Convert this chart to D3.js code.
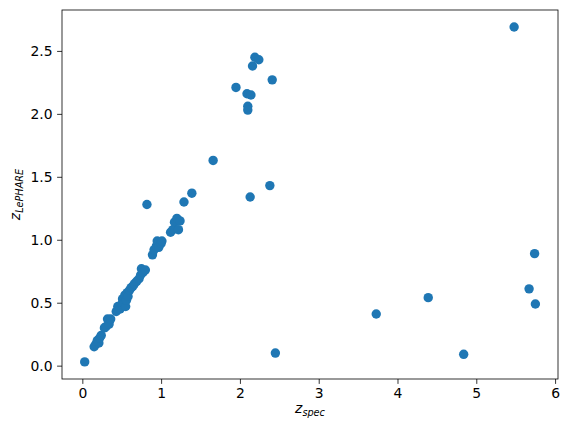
<!DOCTYPE html>
<html>
<head>
<meta charset="utf-8">
<script src="https://cdn.jsdelivr.net/npm/d3@7"></script>
<style>
  body { margin: 0; background: #fff; }
  svg { font-family: "DejaVu Sans", sans-serif; }
</style>
</head>
<body>
<svg id="chart" width="569" height="435"></svg>
<script>
// spectroscopic redshift vs LePHARE photometric redshift
const zSpec = [
  0.03, 0.15, 0.17, 0.19, 0.21, 0.22, 0.24, 0.28, 0.30, 0.32, 0.34, 0.36,
  0.43, 0.45, 0.48, 0.50, 0.51, 0.53, 0.54, 0.55, 0.56, 0.57, 0.58, 0.60,
  0.62, 0.64, 0.66, 0.69, 0.72, 0.74, 0.75, 0.77, 0.80, 0.82, 0.89, 0.91,
  0.94, 0.95, 0.97, 1.00, 1.01, 1.12, 1.15, 1.17, 1.20, 1.22, 1.24, 1.29,
  1.39, 1.66, 1.95, 2.09, 2.10, 2.10, 2.14, 2.13, 2.16, 2.19, 2.24, 2.38,
  2.41, 2.45, 3.73, 4.39, 4.84, 5.48, 5.67, 5.74, 5.75
];
const zLephare = [
  0.03, 0.15, 0.17, 0.20, 0.18, 0.22, 0.24, 0.30, 0.31, 0.37, 0.33, 0.37,
  0.43, 0.47, 0.45, 0.49, 0.53, 0.50, 0.56, 0.47, 0.52, 0.58, 0.55, 0.60,
  0.62, 0.63, 0.65, 0.67, 0.69, 0.72, 0.77, 0.74, 0.76, 1.28, 0.88, 0.92,
  0.95, 0.99, 0.94, 0.97, 0.99, 1.06, 1.08, 1.14, 1.17, 1.08, 1.15, 1.30,
  1.37, 1.63, 2.21, 2.16, 2.06, 2.03, 2.15, 1.34, 2.38, 2.45, 2.43, 1.43,
  2.27, 0.10, 0.41, 0.54, 0.09, 2.69, 0.61, 0.89, 0.49
];
const xTicks = [0, 1, 2, 3, 4, 5, 6];
const yTicks = [0.0, 0.5, 1.0, 1.5, 2.0, 2.5];

const margin = {left: 62, right: 11, top: 10, bottom: 56};
const width = 569, height = 435;

const svg = d3.select("#chart");

const x = d3.scaleLinear()
  .domain([-0.258, 6.037])
  .range([margin.left, width - margin.right]);

const y = d3.scaleLinear()
  .domain([-0.106, 2.825])
  .range([height - margin.bottom, margin.top]);

svg.append("g")
  .selectAll("circle")
  .data(d3.range(zSpec.length))
  .join("circle")
    .attr("cx", i => x(zSpec[i]))
    .attr("cy", i => y(zLephare[i]))
    .attr("r", 4.7)
    .attr("fill", "#1f77b4");

const xAxis = svg.append("g")
  .attr("transform", `translate(0,${height - margin.bottom})`)
  .call(d3.axisBottom(x).tickValues(xTicks).tickFormat(d3.format("d"))
    .tickSizeOuter(0).tickSize(4.9).tickPadding(4.5));

const yAxis = svg.append("g")
  .attr("transform", `translate(${margin.left},0)`)
  .call(d3.axisLeft(y).tickValues(yTicks).tickFormat(d3.format(".1f"))
    .tickSizeOuter(0).tickSize(4.9).tickPadding(4.5));

[xAxis, yAxis].forEach(g => {
  g.select(".domain").remove();
  g.selectAll("line").attr("stroke", "#000").attr("stroke-width", 0.8);
  g.selectAll("text")
    .attr("fill", "#000")
    .style("font-size", "13.9px")
    .style("font-family", "DejaVu Sans, sans-serif");
});

// frame
svg.append("rect")
  .attr("x", margin.left)
  .attr("y", margin.top)
  .attr("width", width - margin.left - margin.right)
  .attr("height", height - margin.top - margin.bottom)
  .attr("fill", "none")
  .attr("stroke", "#000")
  .attr("stroke-width", 0.8);

// axis labels with mathtext-like subscripts
const xl = svg.append("text")
  .attr("x", (margin.left + width - margin.right) / 2)
  .attr("y", 413)
  .attr("text-anchor", "middle")
  .style("font-size", "13.9px");
xl.append("tspan").attr("font-style", "italic").text("z");
xl.append("tspan").attr("font-style", "italic")
  .attr("dy", 3).style("font-size", "9.7px").text("spec");

const yl = svg.append("text")
  .attr("transform", `translate(20,${(margin.top + height - margin.bottom) / 2}) rotate(-90)`)
  .attr("text-anchor", "middle")
  .style("font-size", "13.9px");
yl.append("tspan").attr("font-style", "italic").text("z");
yl.append("tspan").attr("font-style", "italic")
  .attr("dy", 3).style("font-size", "9.7px").text("LePHARE");
</script>
</body>
</html>
